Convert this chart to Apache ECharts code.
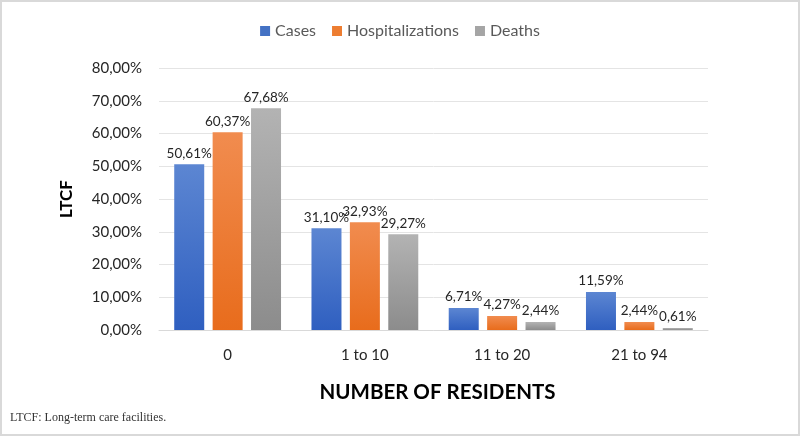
<!DOCTYPE html>
<html><head><meta charset="utf-8">
<script src="https://cdn.jsdelivr.net/npm/echarts@6/dist/echarts.min.js"></script>
<style>html,body{margin:0;padding:0;background:#fff}#c{width:800px;height:436px}</style>
</head><body><div id="c"></div>
<script>
var categories = ['0', '1 to 10', '11 to 20', '21 to 94'];
var cases = [50.61, 31.10, 6.71, 11.59];
var hospitalizations = [60.37, 32.93, 4.27, 2.44];
var deaths = [67.68, 29.27, 2.44, 0.61];
var yTicks = [0, 10, 20, 30, 40, 50, 60, 70, 80];

function pct(v){ return v.toFixed(2).replace('.', ',') + '%'; }
function grad(top, bottom){
  return new echarts.graphic.LinearGradient(0,0,0,1,[{offset:0,color:top},{offset:1,color:bottom}]);
}
var font = 'Lato, "Open Sans", sans-serif';
var labelCfg = {show:true, position:'top', distance:4, color:'#262626', fontSize:13.5, fontFamily:font, formatter:function(p){return pct(p.value);}};

var chart = echarts.init(document.getElementById('c'));
chart.setOption({
  animation:false,
  textStyle:{fontFamily:font},
  legend:{
    top:18, left:'center', itemWidth:10, itemHeight:10, itemGap:16, icon:'rect',
    textStyle:{fontSize:16, color:'#595959', fontFamily:font},
    data:[
      {name:'Cases', itemStyle:{color:'#4472c4'}},
      {name:'Hospitalizations', itemStyle:{color:'#ed7d31'}},
      {name:'Deaths', itemStyle:{color:'#a5a5a5'}}
    ]
  },
  grid:{left:159, right:92, top:68, bottom:106},
  xAxis:{
    type:'category', data:categories,
    axisLine:{lineStyle:{color:'#d9d9d9'}}, axisTick:{show:false},
    axisLabel:{fontSize:15, color:'#262626', margin:18, fontFamily:font},
    name:'NUMBER OF RESIDENTS', nameLocation:'middle', nameGap:52,
    nameTextStyle:{fontSize:20.5, fontWeight:'bold', color:'#000', padding:[0,0,0,8], fontFamily:font}
  },
  yAxis:{
    type:'value', min:0, max:80, interval:10,
    axisLine:{show:false}, axisTick:{show:false},
    splitLine:{lineStyle:{color:'#e4e4e4'}},
    axisLabel:{fontSize:15, color:'#262626', margin:17, fontFamily:font, formatter:function(v){return pct(v);}},
    name:'LTCF', nameLocation:'middle', nameGap:84, nameRotate:90,
    nameTextStyle:{fontSize:17, fontWeight:'bold', color:'#000', fontFamily:font}
  },
  series:[
    {name:'Cases', type:'bar', data:cases, barWidth:30, barGap:'28%',
     itemStyle:{color:grad('#5c86d2','#2f5fc0')}, label:labelCfg},
    {name:'Hospitalizations', type:'bar', data:hospitalizations, barWidth:30,
     itemStyle:{color:grad('#f18c4f','#e86c1c')}, label:labelCfg},
    {name:'Deaths', type:'bar', data:deaths, barWidth:30,
     itemStyle:{color:grad('#b3b3b3','#8c8c8c')}, label:labelCfg}
  ],
  graphic:[
    {type:'rect', shape:{x:1, y:1, width:798, height:434}, style:{fill:'none', stroke:'#d9d9d9', lineWidth:2}, silent:true},
    {type:'text', left:10, top:412, style:{text:'LTCF: Long-term care facilities.', font:'12px "Liberation Serif", "DejaVu Serif", serif', fill:'#333'}}
  ]
});
</script></body></html>
